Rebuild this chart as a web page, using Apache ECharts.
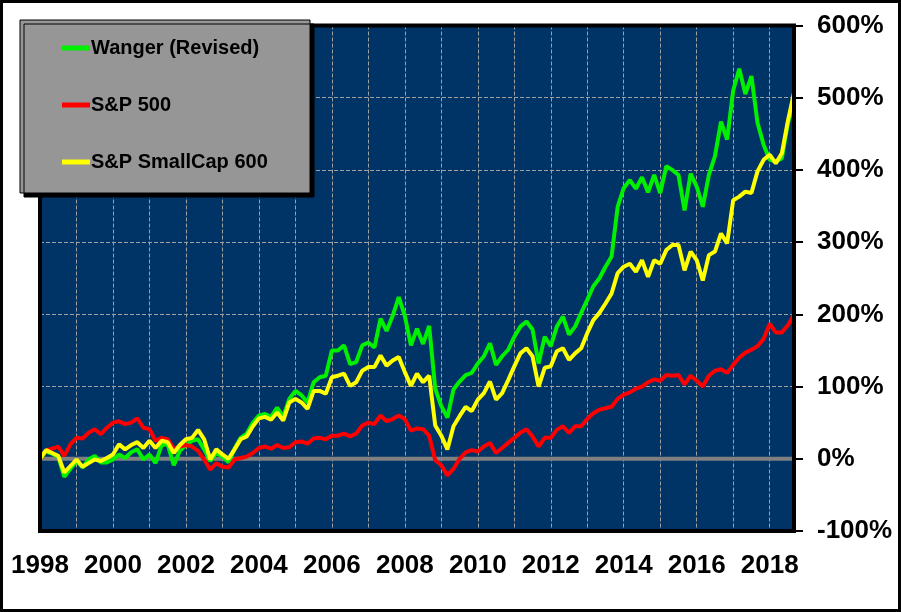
<!DOCTYPE html>
<html>
<head>
<meta charset="utf-8">
<title>Wanger vs S&amp;P</title>
<script src="https://cdn.jsdelivr.net/npm/echarts/dist/echarts.min.js"></script>
<style>
  html, body { margin: 0; padding: 0; background: #fff; }
  #chart { width: 901px; height: 612px; }
</style>
</head>
<body>
<div id="chart"></div>
<script>
// two-month steps, Jan 1998 .. Sep 2018
var stepsPerYear = 6;
var pointCount = 125;
var dates = [];
for (var i = 0; i < pointCount; i++) dates.push(1998 + i / stepsPerYear);

var seriesNames = ['Wanger (Revised)', 'S&P 500', 'S&P SmallCap 600'];
var seriesColors = ['#00f000', '#ff0000', '#ffff00'];

// cumulative return, %
var wanger = [
  0, 10, 7, 3, -25, -14, -3, -12, -1, 4, -5, -5,
  -1, 6, 1, 9, 13, -1, 6, -6, 19, 20, -9, 11,
  19, 25, 27, 13, -3, 8, 3, -5, 14, 29, 35, 50,
  60, 62, 58, 71, 58, 83, 94, 88, 78, 106, 113, 115,
  150, 150, 157, 131, 134, 157, 161, 154, 194, 177, 198, 224,
  198, 157, 180, 159, 184, 97, 73, 57, 96, 107, 116, 119,
  132, 142, 160, 130, 142, 151, 169, 183, 190, 179, 132, 169,
  156, 183, 197, 172, 183, 202, 220, 239, 250, 266, 280, 349,
  375, 386, 374, 390, 369, 393, 368, 405, 400, 393, 344, 395,
  377, 349, 393, 419, 467, 442, 510, 540, 505, 530, 465, 435,
  414, 412, 416, 465, 495
];
var sp500 = [
  0, 12, 14, 17, 4, 20, 29, 28, 36, 41, 34, 43,
  50, 52, 48, 50, 56, 43, 41, 25, 29, 27, 14, 17,
  19, 17, 11, -1, -15, -6, -11, -12, -1, 1, 3, 8,
  15, 17, 14, 19, 15, 16, 23, 24, 21, 28, 29, 27,
  32, 32, 35, 31, 35, 46, 50, 48, 60, 52, 55, 60,
  55, 39, 42, 41, 32, -2, -9, -23, -14, 0, 9, 12,
  10, 17, 22, 8, 15, 22, 29, 36, 41, 31, 17, 29,
  29, 40, 45, 36, 45, 45, 55, 63, 68, 70, 72, 83,
  89, 92, 97, 100, 106, 110, 108, 116, 115, 116, 103, 115,
  108, 100, 115, 122, 124, 119, 130, 140, 147, 151, 156, 166,
  187, 175, 175, 185, 200
];
var smallCap600 = [
  0, 12, 8, 4, -19, -10, -1, -11, -6, -1, -3, 1,
  6, 20, 13, 19, 23, 15, 25, 15, 25, 23, 8, 19,
  27, 29, 40, 27, -1, 13, 6, 0, 13, 27, 31, 45,
  56, 58, 54, 64, 53, 78, 83, 78, 69, 94, 94, 90,
  113, 115, 118, 101, 106, 122, 127, 127, 143, 129, 136, 141,
  120, 101, 118, 106, 115, 46, 32, 13, 45, 59, 72, 66,
  82, 91, 107, 82, 91, 109, 128, 146, 153, 142, 100, 126,
  128, 149, 153, 137, 146, 153, 174, 192, 202, 215, 229, 257,
  266, 270, 259, 275, 252, 275, 270, 289, 296, 296, 261, 287,
  275, 247, 282, 287, 312, 298, 358, 363, 370, 368, 398, 414,
  421, 409, 423, 468, 507
];

var yMin = -100, yMax = 600, yStep = 100;
var xMin = 1998, xMax = dates[dates.length - 1];

// plot box (px)
var plotLeft = 40, plotTop = 25.5, plotRight = 794, plotBottom = 531;

function pairs(values) {
  return dates.map(function (d, i) { return [d, values[i]]; });
}

function lineSeries(idx, values) {
  return {
    name: seriesNames[idx],
    type: 'line',
    symbol: 'none',
    showSymbol: false,
    z: 2 + idx,
    itemStyle: { color: seriesColors[idx] },
    lineStyle: { color: seriesColors[idx], width: 4 },
    data: pairs(values)
  };
}

var font = 'Liberation Sans, Arial, sans-serif';
var myChart = echarts.init(document.getElementById('chart'));

var option = {
  animation: false,
  graphic: [
    {
      type: 'rect', z: 100,
      shape: { x: 1.5, y: 1.5, width: 898, height: 609 },
      style: { fill: 'none', stroke: '#000', lineWidth: 3 }
    },
    {
      // plot frame
      type: 'rect', z: 50,
      shape: { x: plotLeft, y: plotTop, width: plotRight - plotLeft, height: plotBottom - plotTop },
      style: { fill: 'none', stroke: '#000', lineWidth: 4 }
    },
    {
      type: 'rect', z: 100,
      shape: { x: 20, y: 20, width: 290, height: 173 },
      style: {
        fill: '#969696', stroke: '#000', lineWidth: 1,
        shadowColor: '#000', shadowOffsetX: 4, shadowOffsetY: 4, shadowBlur: 0
      }
    }
  ],
  legend: {
    data: seriesNames,
    orient: 'vertical',
    left: 62,
    top: 38,
    padding: 0,
    z: 110,
    icon: 'rect',
    itemWidth: 28,
    itemHeight: 5,
    itemGap: 37,
    textStyle: { fontFamily: font, fontWeight: 'bold', fontSize: 20, color: '#000', padding: [0, 0, 0, -4] }
  },
  grid: {
    left: plotLeft,
    right: 901 - plotRight,
    top: plotTop,
    bottom: 612 - plotBottom,
    show: true,
    backgroundColor: '#003366',
    borderWidth: 0
  },
  xAxis: {
    type: 'value',
    min: xMin,
    max: xMax,
    interval: 1,
    axisLine: { show: false },
    axisTick: { show: false },
    splitLine: { show: true, lineStyle: { color: '#a0a0a0', type: 'dashed', width: 1 } },
    axisLabel: {
      margin: 22,
      showMaxLabel: false,
      fontFamily: font, fontWeight: 'bold', fontSize: 26, color: '#000',
      formatter: function (v) {
        var r = Math.round(v);
        return (Math.abs(v - r) < 1e-6 && r % 2 === 0) ? String(r) : '';
      }
    }
  },
  yAxis: {
    type: 'value',
    position: 'right',
    min: yMin,
    max: yMax,
    interval: yStep,
    axisLine: { show: false },
    axisTick: { show: true, length: 9, lineStyle: { color: '#000', width: 2 } },
    splitLine: { show: true, lineStyle: { color: '#a0a0a0', type: 'dashed', width: 1 } },
    axisLabel: {
      margin: 23,
      fontFamily: font, fontWeight: 'bold', fontSize: 26, color: '#000',
      formatter: '{value}%'
    }
  },
  series: [
    {
      name: 'zero',
      type: 'line',
      silent: true,
      symbol: 'none',
      z: 1,
      lineStyle: { color: '#808080', width: 4 },
      data: [[xMin, 0], [xMax, 0]]
    },
    lineSeries(0, wanger),
    lineSeries(1, sp500),
    lineSeries(2, smallCap600)
  ]
};
option && myChart.setOption(option);
</script>
</body>
</html>
